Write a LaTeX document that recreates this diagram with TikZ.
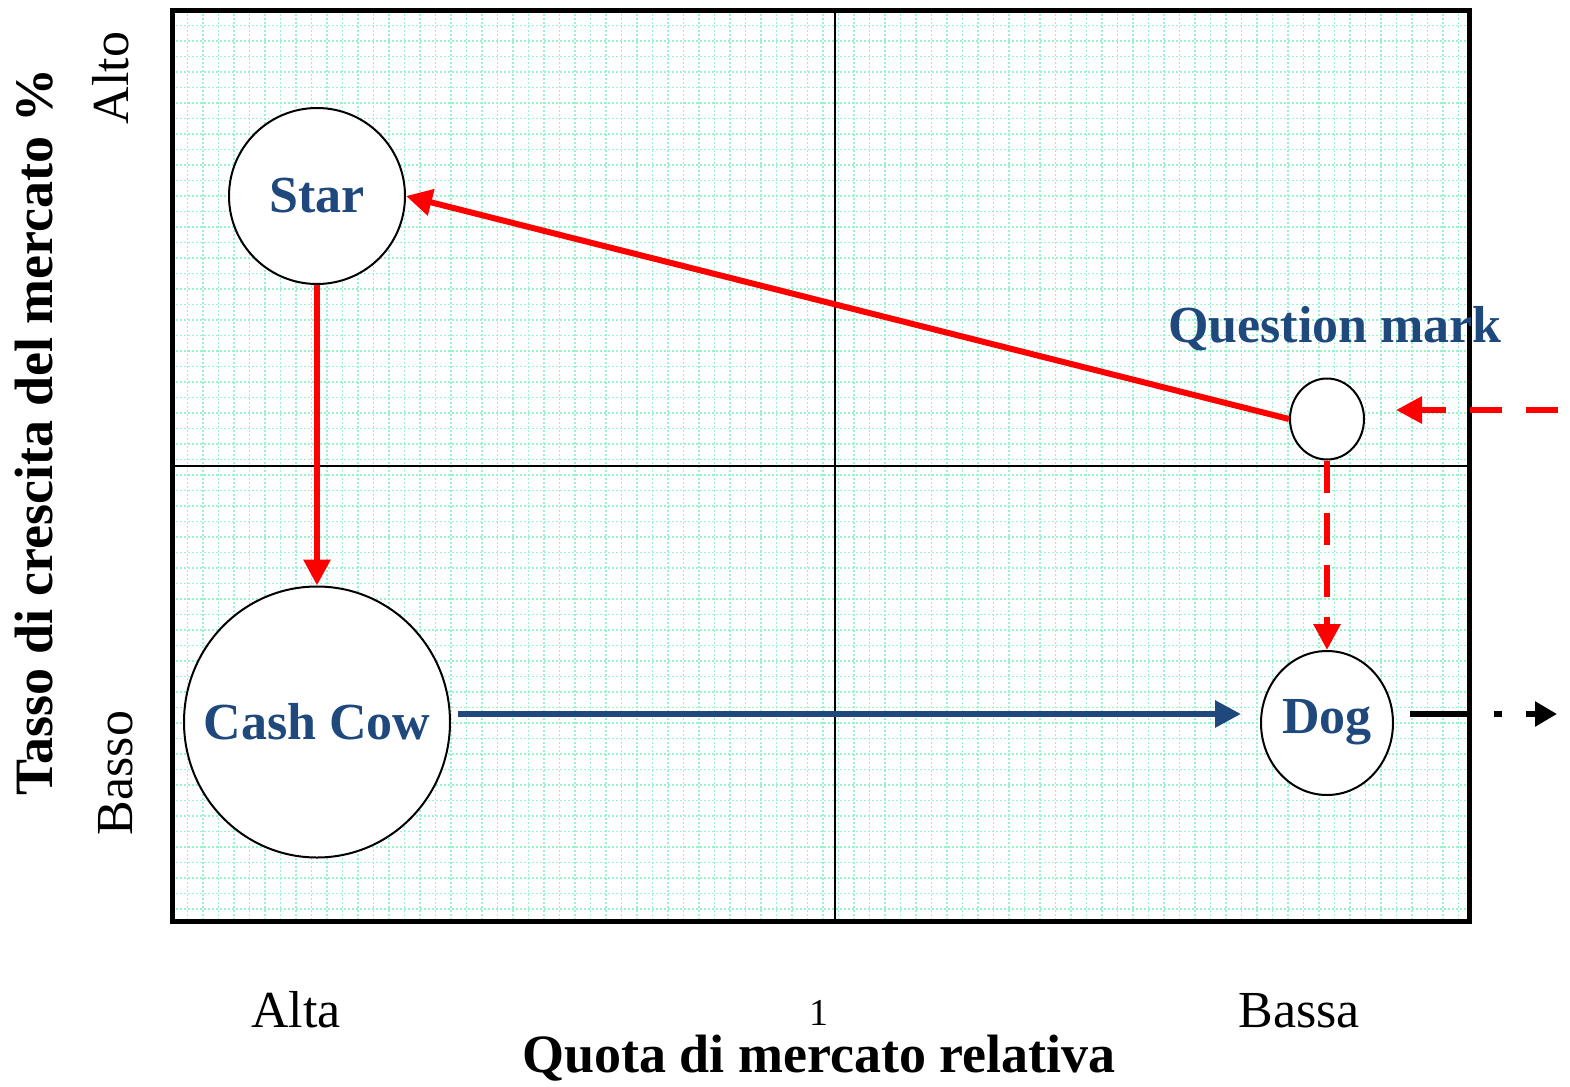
\documentclass[tikz,border=0pt]{standalone}
\usepackage{fontspec}
\setmainfont{Liberation Serif}
\usetikzlibrary{arrows.meta,shapes.geometric}
\definecolor{bcgblue}{RGB}{31,73,125}
\definecolor{gridmint}{RGB}{150,245,205}
\definecolor{arrred}{RGB}{255,0,0}
\tikzset{
  bubble/.style={draw=black, line width=1pt, ellipse, fill=white, inner sep=0pt},
  bubbletext/.style={font=\fontsize{26pt}{30pt}\selectfont\bfseries, text=bcgblue, inner sep=0pt},
  axistext/.style={font=\fontsize{26pt}{30pt}\selectfont, inner sep=0pt, anchor=base},
  axistitle/.style={font=\fontsize{27pt}{32pt}\selectfont\bfseries, inner sep=0pt, anchor=base},
  redarrow/.style={draw=arrred, line width=3pt, -{Triangle[length=13pt,width=13pt]}},
  bluearrow/.style={draw=bcgblue, line width=3pt, -{Triangle[length=13pt,width=13pt]}},
  gridline/.style={draw=gridmint, line width=0.8pt, dash pattern=on 1pt off 1pt},
}
\begin{document}
\begin{tikzpicture}[x=0.5pt,y=-0.5pt]
\useasboundingbox (0,0) rectangle (1570,1087);
% grid
\foreach \i in {1,...,83} { \draw[gridline] (172+\i*15.5,10) -- (172+\i*15.5,921); }
\foreach \j in {1,...,58} { \draw[gridline] (172,10+\j*15.5) -- (1469,10+\j*15.5); }
% quadrant lines
\draw[line width=1.2pt] (835,10) -- (835,921);
\draw[line width=1pt] (172,466) -- (1469,466);
% frame
\draw[line width=2.5pt] (172,10) rectangle (1469,921);
% bubbles
\node[bubble, minimum width=88pt, minimum height=88pt] (star) at (317,196) {};
\node[bubble, minimum width=133pt, minimum height=135.5pt] (cow) at (317,722) {};
\node[bubble, minimum width=37pt, minimum height=40.5pt] (qm) at (1327,419) {};
\node[bubble, minimum width=66pt, minimum height=72pt] (dog) at (1327,723) {};
% bubble labels
\node[bubbletext] (startxt) at (317,196) {Star};
\node[bubbletext] (cowtxt) at (317,722) {Cash Cow};
\node[bubbletext] (dogtxt) at (1327,722) {Dog};
\node[bubbletext, anchor=base] (qmtxt) at (1335,342) {Question mark};
% coordinates for free ends
\coordinate (inleft) at (1396,410);
\coordinate (inright) at (1558,410);
\coordinate (outend) at (1557,714);
\coordinate (cowright) at (458,714);
\coordinate (dogleft) at (1241,714);
\coordinate (dogright) at (1410,714);
% arrows
\draw[redarrow] (qm.west) -- (star.east);
\draw[redarrow] (star.south) -- (cow.north);
\draw[redarrow, dash pattern=on 16pt off 10pt] (qm.south) -- (dog.north);
\draw[redarrow, dash pattern=on 16pt off 12pt] (inright) -- (inleft);
\draw[bluearrow] (cowright) -- (dogleft);
\draw[line width=3pt, dash pattern=on 30pt off 12pt on 4pt off 12pt, -{Triangle[length=11pt,width=12pt]}] (dogright) -- (outend);
% axis texts
\node[axistext] (alta) at (296,1027) {Alta};
\node[axistext] (bassa) at (1299,1027) {Bassa};
\node[font=\fontsize{19pt}{24pt}\selectfont, inner sep=0pt, anchor=base] (one) at (819,1025) {1};
\node[axistitle] (xtitle) at (819,1072) {Quota di mercato relativa};
\node[axistitle, rotate=90] (ytitle) at (53,432) {Tasso di crescita del mercato \%};
\node[axistext, rotate=90] (alto) at (128,78) {Alto};
\node[axistext, rotate=90] (basso) at (132,773) {Basso};
\end{tikzpicture}
\end{document}
